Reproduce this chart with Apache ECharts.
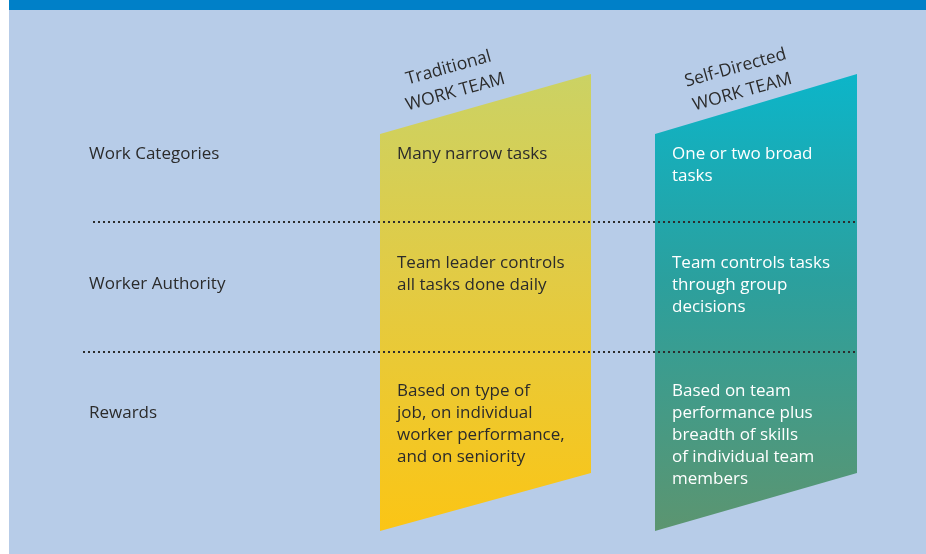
<!DOCTYPE html>
<html>
<head>
<meta charset="utf-8">
<script src="https://cdn.jsdelivr.net/npm/echarts@6/dist/echarts.min.js"></script>
<style>
html,body{margin:0;padding:0;background:#fff;}
#chart{width:926px;height:554px;}
</style>
</head>
<body>
<div id="chart"></div>
<script>
// ---- Data ----
const rowLabels = ['Work Categories', 'Worker Authority', 'Rewards'];
const teamHeaders = ['Traditional\nWORK TEAM', 'Self-Directed\nWORK TEAM'];
const traditionalCells = [
  'Many narrow tasks',
  'Team leader controls\nall tasks done daily',
  'Based on type of\njob, on individual\nworker performance,\nand on seniority'
];
const selfDirectedCells = [
  'One or two broad\ntasks',
  'Team controls tasks\nthrough group\ndecisions',
  'Based on team\nperformance plus\nbreadth of skills\nof individual team\nmembers'
];
const dividers = [1, 2];

// ---- Layout (positions & styles) ----
const FONT = '"Open Sans", "Noto Sans", sans-serif';
const L = {
  colLeft: [380, 655], colRight: [591, 857],
  topLeftY: 134, topRightY: 74, botLeftY: 531, botRightY: 473,
  textX: [397, 672], labelX: 89,
  cellFirstLineCenter: [154, 263, 391],
  labelCenter: [154, 284, 413],
  dividerY: { 1: 222, 2: 352 }, dividerX0: { 1: 93, 2: 83 }, dividerX1: 857,
  headerCenter: [[452, 80], [739, 80]],
  lineH: 22
};
const GRADS = [
  [{offset:0,color:'#cbd264'},{offset:0.45,color:'#e2cb44'},{offset:1,color:'#fbc515'}],
  [{offset:0,color:'#0cb5c9'},{offset:0.45,color:'#2ba09e'},{offset:1,color:'#5c9570'}]
];
const TEXT_COLORS = ['#2b2b2b', '#ffffff'];

const chart = echarts.init(document.getElementById('chart'));

const option = {
  backgroundColor: '#b7cce8',
  animation: false,
  grid: { left: 0, right: 0, top: 0, bottom: 0 },
  xAxis: { type: 'value', min: 0, max: 926, show: false },
  yAxis: { type: 'value', min: 0, max: 554, inverse: true, show: false },
  graphic: [
    { type: 'rect', left: 0, top: 0, shape: { width: 9, height: 554 }, style: { fill: '#ffffff' }, z: 100 },
    { type: 'rect', left: 9, top: 0, shape: { width: 917, height: 10 }, style: { fill: '#0080c8' }, z: 100 }
  ],
  series: [
    {
      type: 'custom',
      name: 'columns',
      coordinateSystem: 'cartesian2d',
      data: teamHeaders.map((h, i) => [i]),
      z: 1,
      renderItem: function (params, api) {
        const i = api.value(0);
        const p1 = api.coord([L.colLeft[i], L.topLeftY]);
        const p2 = api.coord([L.colRight[i], L.topRightY]);
        const p3 = api.coord([L.colRight[i], L.botRightY]);
        const p4 = api.coord([L.colLeft[i], L.botLeftY]);
        const a = api.coord(L.headerCenter[i]);
        return {
          type: 'group',
          children: [
            {
              type: 'polygon',
              shape: { points: [p1, p2, p3, p4] },
              style: { fill: new echarts.graphic.LinearGradient(0, 0, 0, 1, GRADS[i]) }
            },
            {
              type: 'text',
              x: a[0], y: a[1],
              rotation: 15.5 * Math.PI / 180,
              style: {
                text: teamHeaders[i],
                fill: '#2b2b2b',
                font: '17.5px ' + FONT,
                lineHeight: 25,
                align: 'center',
                verticalAlign: 'middle'
              }
            }
          ]
        };
      }
    },
    {
      type: 'custom',
      name: 'cells',
      coordinateSystem: 'cartesian2d',
      z: 2,
      data: traditionalCells.map((t, r) => [0, r]).concat(selfDirectedCells.map((t, r) => [1, r])),
      renderItem: function (params, api) {
        const c = api.value(0), r = api.value(1);
        const txt = c === 0 ? traditionalCells[r] : selfDirectedCells[r];
        const p = api.coord([L.textX[c], L.cellFirstLineCenter[r] - L.lineH / 2]);
        return {
          type: 'text',
          x: p[0], y: p[1],
          style: {
            text: txt, fill: TEXT_COLORS[c], font: '17px ' + FONT,
            lineHeight: L.lineH, align: 'left', verticalAlign: 'top'
          }
        };
      }
    },
    {
      type: 'custom',
      name: 'rowLabels',
      coordinateSystem: 'cartesian2d',
      z: 2,
      data: rowLabels.map((t, r) => [r]),
      renderItem: function (params, api) {
        const r = api.value(0);
        const p = api.coord([L.labelX, L.labelCenter[r]]);
        return {
          type: 'text', x: p[0], y: p[1],
          style: {
            text: rowLabels[r], fill: '#2b2b2b', font: '17px ' + FONT,
            align: 'left', verticalAlign: 'middle'
          }
        };
      }
    },
    {
      type: 'custom',
      name: 'dividers',
      coordinateSystem: 'cartesian2d',
      z: 3,
      data: dividers.map(d => [d]),
      renderItem: function (params, api) {
        const d = api.value(0);
        const a = api.coord([L.dividerX0[d], L.dividerY[d]]);
        const b = api.coord([L.dividerX1, L.dividerY[d]]);
        return {
          type: 'line',
          shape: { x1: a[0], y1: a[1], x2: b[0], y2: b[1] },
          style: { stroke: '#2b2b2b', lineWidth: 2, lineDash: [2, 3], lineCap: 'butt' }
        };
      }
    }
  ]
};
chart.setOption(option);
</script>
</body>
</html>
